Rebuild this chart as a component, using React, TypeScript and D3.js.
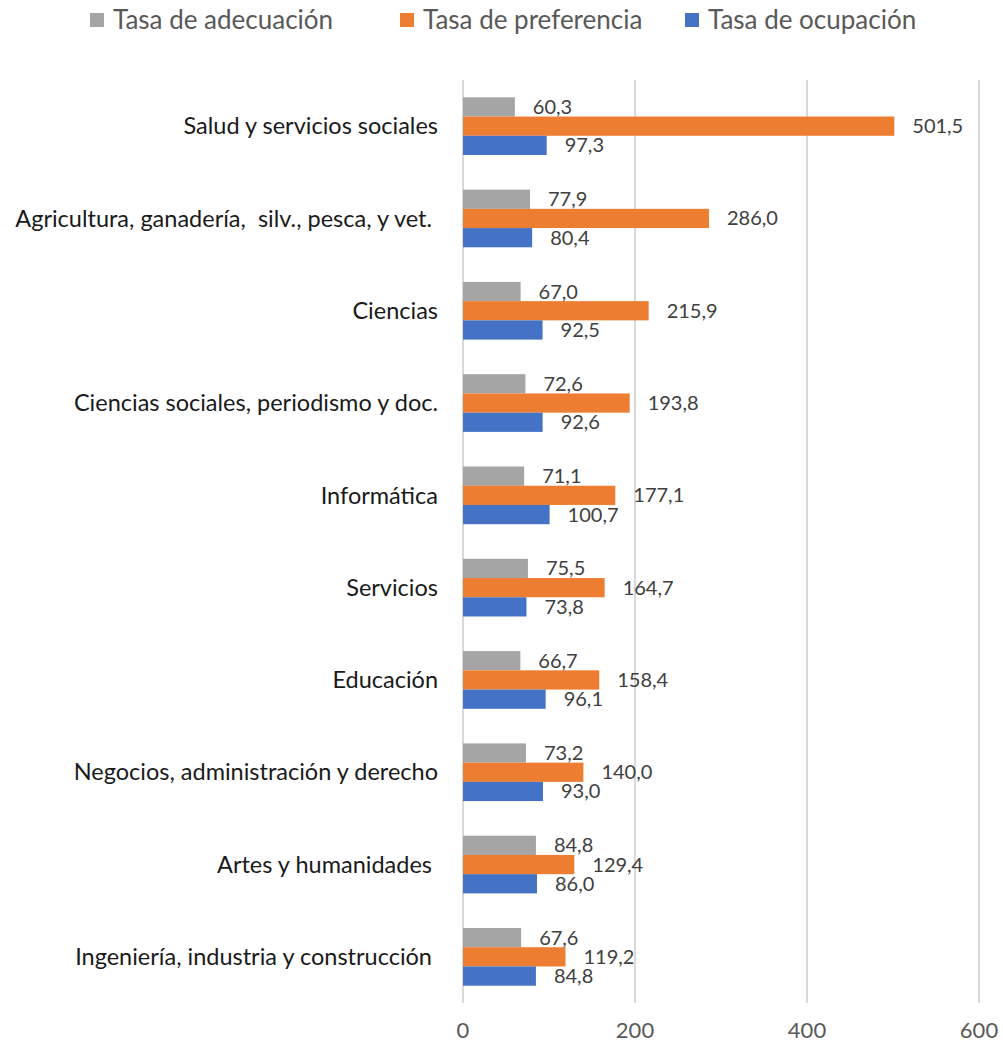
import React from "react";
import * as d3 from "d3";

const categories = [
  "Salud y servicios sociales",
  "Agricultura, ganadería,  silv., pesca, y vet. ",
  "Ciencias",
  "Ciencias sociales, periodismo y doc.",
  "Informática",
  "Servicios",
  "Educación",
  "Negocios, administración y derecho",
  "Artes y humanidades ",
  "Ingeniería, industria y construcción ",
];
const adecuacion = [60.3, 77.9, 67.0, 72.6, 71.1, 75.5, 66.7, 73.2, 84.8, 67.6];
const preferencia = [501.5, 286.0, 215.9, 193.8, 177.1, 164.7, 158.4, 140.0, 129.4, 119.2];
const ocupacion = [97.3, 80.4, 92.5, 92.6, 100.7, 73.8, 96.1, 93.0, 86.0, 84.8];
const seriesNames = ["Tasa de adecuación", "Tasa de preferencia", "Tasa de ocupación"];
const seriesColors = ["#A5A5A5", "#ED7D31", "#4472C4"];
const xTicks = [0, 200, 400, 600];

const W = 1003;
const H = 1048;
const FONT = "Lato, 'Open Sans', sans-serif";

export default function App() {
  const x = d3.scaleLinear().domain([0, 600]).range([463, 979]);
  const y = d3.scaleBand<string>().domain(categories).range([80, 1003]).paddingInner(0.375).paddingOuter(0.1875);
  const series = [adecuacion, preferencia, ocupacion];
  const sub = d3.scaleBand<number>().domain([0, 1, 2]).range([0, y.bandwidth()]);
  const fmt = (v: number) => v.toFixed(1).replace(".", ",");
  const legendX = [90, 400, 685];

  return (
    <svg width={W} height={H} style={{ position: "absolute", left: 0, top: 0, background: "#fff" }} fontFamily={FONT}>
      {xTicks.map((t) => (
        <line key={t} x1={x(t)} x2={x(t)} y1={80} y2={1003} stroke="#D9D9D9" strokeWidth={2} />
      ))}
      {categories.map((c, i) => (
        <g key={c}>
          {series.map((s, k) => (
            <rect
              key={k}
              x={x(0)}
              y={(y(c) as number) + (sub(k) as number)}
              width={x(s[i]) - x(0)}
              height={sub.bandwidth()}
              fill={seriesColors[k]}
            />
          ))}
          {series.map((s, k) => (
            <text
              key={"l" + k}
              x={x(s[i]) + 18}
              y={(y(c) as number) + (sub(k) as number) + sub.bandwidth() / 2}
              dy="0.35em"
              fontSize={20}
              fill="#404040"
            >
              {fmt(s[i])}
            </text>
          ))}
          <text
            x={438}
            y={(y(c) as number) + y.bandwidth() / 2}
            dy="0.35em"
            textAnchor="end"
            fontSize={23.5}
            fill="#1a1a1a"
            style={{ whiteSpace: "pre" }}
          >
            {c}
          </text>
        </g>
      ))}
      {xTicks.map((t) => (
        <text key={"t" + t} x={x(t)} y={1030} dy="0.35em" textAnchor="middle" fontSize={22} fill="#595959">
          {t}
        </text>
      ))}
      {seriesNames.map((n, k) => (
        <g key={n}>
          <rect x={legendX[k]} y={13} width={14} height={14} fill={seriesColors[k]} />
          <text x={legendX[k] + 23} y={20} dy="0.35em" fontSize={26} fill="#595959">
            {n}
          </text>
        </g>
      ))}
    </svg>
  );
}
